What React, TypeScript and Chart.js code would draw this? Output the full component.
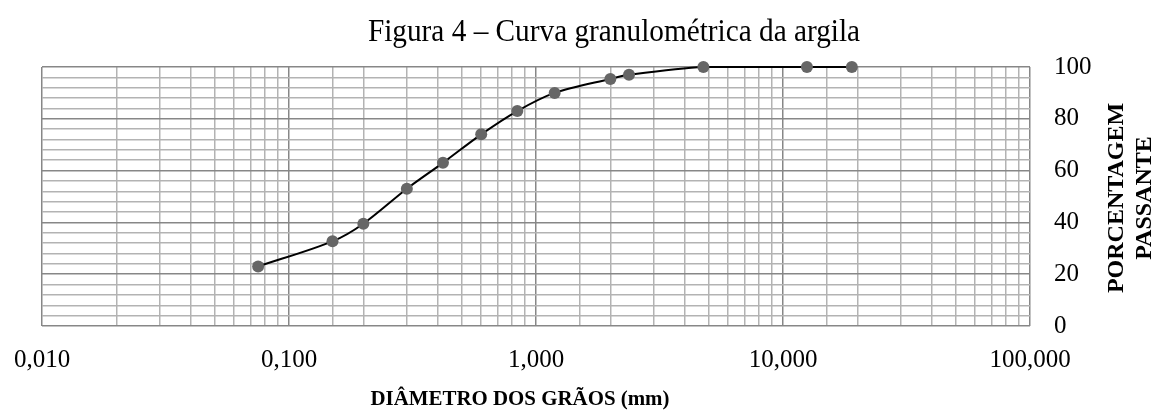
import React, { useEffect, useRef } from "react";
import { Chart, registerables } from "chart.js";

Chart.register(...registerables);

const diametersMm = [0.075, 0.15, 0.2, 0.3, 0.42, 0.6, 0.84, 1.19, 2.0, 2.38, 4.76, 12.5, 19.0];
const percentPassing = [23, 32.7, 39.5, 53, 63, 74, 83, 90, 95.4, 97, 100, 100, 100];
const chartTitle = "Figura 4 – Curva granulométrica da argila";
const xAxisTitle = "DIÂMETRO DOS GRÃOS (mm)";
const yAxisTitleLines = ["PORCENTAGEM", "PASSANTE"];

const SERIF = "'Liberation Serif', 'Times New Roman', serif";
const MINOR = "#b3b3b3";
const MAJOR = "#878787";

const isPow10 = (v: number) => {
  const l = Math.log10(v);
  return Math.abs(l - Math.round(l)) < 1e-6;
};

const textPlugin = {
  id: "customTexts",
  afterDraw(chart: any) {
    const { ctx } = chart;
    ctx.save();
    ctx.fillStyle = "#000";
    ctx.textAlign = "center";
    ctx.textBaseline = "alphabetic";
    ctx.save();
    ctx.translate(614, 41);
    ctx.scale(0.915, 1);
    ctx.font = `32px ${SERIF}`;
    ctx.fillText(chartTitle, 0, 0);
    ctx.restore();
    ctx.save();
    ctx.translate(520, 405);
    ctx.scale(0.95, 1);
    ctx.font = `bold 22px ${SERIF}`;
    ctx.fillText(xAxisTitle, 0, 0);
    ctx.restore();
    ctx.font = `bold 24px ${SERIF}`;
    ctx.textBaseline = "middle";
    ctx.translate(1116.5, 198);
    ctx.rotate(-Math.PI / 2);
    yAxisTitleLines.forEach((line, i) => {
      ctx.fillText(line, 0, i * 28);
    });
    ctx.restore();
  },
};

export default function App() {
  const ref = useRef<HTMLCanvasElement>(null);
  useEffect(() => {
    if (!ref.current) return;
    const chart = new Chart(ref.current, {
      type: "scatter",
      data: {
        datasets: [
          {
            data: diametersMm.map((x, i) => ({ x, y: percentPassing[i] })),
            showLine: true,
            clip: false,
            borderColor: "#000",
            borderWidth: 2,
            tension: 0.3,
            pointRadius: 6,
            pointBackgroundColor: "#666666",
            pointBorderColor: "#666666",
            pointBorderWidth: 0,
          },
        ],
      },
      options: {
        responsive: false,
        animation: false,
        layout: { padding: { left: 42, right: 46, top: 67, bottom: 26 } },
        plugins: { legend: { display: false }, tooltip: { enabled: false }, title: { display: false } },
        scales: {
          x: {
            type: "logarithmic",
            min: 0.01,
            max: 100,
            border: { display: false },
            grid: {
              drawTicks: false,
              lineWidth: 1.5,
              color: (c: any) => (c.tick && isPow10(c.tick.value) ? MAJOR : MINOR),
            },
            ticks: {
              autoSkip: false,
              maxRotation: 0,
              padding: 19,
              color: "#000",
              font: { family: SERIF, size: 25 },
              callback: (v: any) => (isPow10(Number(v)) ? Number(v).toFixed(3).replace(".", ",") : ""),
            },
            afterFit: (s: any) => {
              s.height = 60;
              s.paddingLeft = 0;
              s.paddingRight = 0;
            },
          },
          y: {
            position: "right",
            min: 0,
            max: 100,
            border: { display: false },
            grid: {
              drawTicks: false,
              lineWidth: 1.5,
              color: (c: any) => (c.tick && c.tick.value % 20 === 0 ? MAJOR : MINOR),
            },
            ticks: {
              stepSize: 4,
              autoSkip: false,
              padding: 24,
              color: "#000",
              font: { family: SERIF, size: 25 },
              callback: (v: any) => (Number(v) % 20 === 0 ? String(v) : ""),
            },
            afterFit: (s: any) => {
              s.width = 80;
              s.paddingTop = 0;
              s.paddingBottom = 0;
            },
          },
        },
      },
      plugins: [textPlugin],
    } as any);
    return () => chart.destroy();
  }, []);
  return (
    <div style={{ position: "absolute", left: 0, top: 0, width: 1156, height: 412, background: "#fff" }}>
      <canvas ref={ref} width={1156} height={412} />
    </div>
  );
}
